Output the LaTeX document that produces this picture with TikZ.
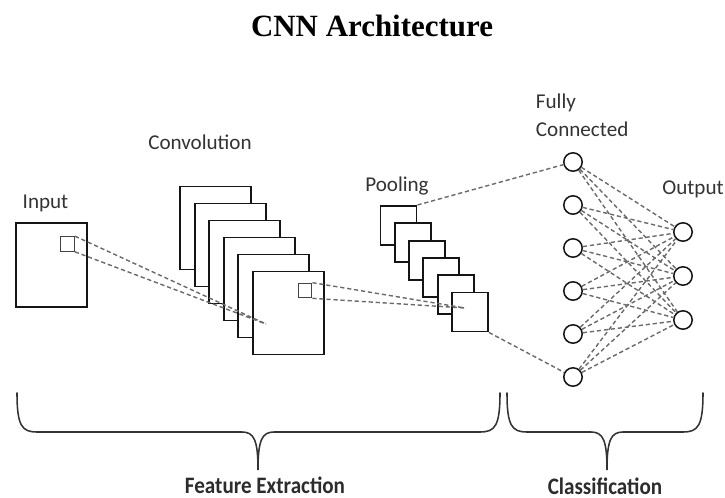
\documentclass[tikz,border=0pt]{standalone}
\usepackage{fontspec}
\setmainfont{Carlito}
\newfontfamily\titlefont{Liberation Serif}
\usetikzlibrary{calc}
\definecolor{ink}{HTML}{151515}
\definecolor{txt}{HTML}{333333}
\definecolor{dash}{HTML}{6A6A6A}
\tikzset{
  every picture/.style={x=0.025cm,y=-0.025cm},
  fmap/.style={draw=ink,fill=white,line width=1.4pt,inner sep=0pt},
  kern/.style={draw=ink!80,line width=0.9pt,inner sep=0pt,minimum width=0.34cm,minimum height=0.36cm},
  neuron/.style={draw=ink,fill=white,circle,line width=1.1pt,inner sep=0pt,minimum size=0.46cm},
  lbl/.style={text=txt,font=\fontsize{15}{20}\selectfont},
  group/.style={text=ink!90,font=\fontsize{15}{18}\selectfont\bfseries},
  link/.style={draw=dash,line width=1pt,dash pattern=on 3pt off 2pt},
  brace/.style={draw=txt,line width=1.1pt,line cap=round}
}

\begin{document}
\begin{tikzpicture}
  \useasboundingbox (0,0) rectangle (725,498);
  \node[font=\titlefont\fontsize{22}{26}\selectfont\bfseries] (title) at (372,26) {CNN Architecture};

  % input image
  \node[fmap,minimum width=1.775cm,minimum height=2.1cm] (in) at (51.5,265) {};
  \node[kern] (ink) at (67.5,244) {};
  \node[lbl] (inlbl) at (45.5,203) {Input};

  % convolution stack
  \foreach \i in {1,...,6}
    \node[fmap,minimum width=1.775cm,minimum height=2.075cm] (conv\i) at ({215.5+14.6*(\i-1)},{228+17*(\i-1)}) {};
  \node[kern] (convk) at (305,290.5) {};
  \node[lbl] (convlbl) at (200,142) {Convolution};

  % pooling stack
  \foreach \i in {1,...,6}
    \node[fmap,minimum width=0.9cm,minimum height=0.975cm] (pool\i) at ({398.5+14.3*(\i-1)},{225.5+17.3*(\i-1)}) {};
  \node[lbl] (poollbl) at (397,186) {Pooling};

  % dense layers
  \foreach \i in {1,...,6}
    \node[neuron] (fc\i) at (573,{162+43*(\i-1)}) {};
  \foreach \j in {1,2,3}
    \node[neuron] (out\j) at (683,{232+44*(\j-1)}) {};
  \node[lbl,align=left,anchor=west] (fclbl) at (531,115) {Fully\\Connected};
  \node[lbl] (outlbl) at (693,189) {Output};

  % receptive fields
  \coordinate (cp) at (266,324);
  \coordinate (pp) at (465,308);
  \draw[link] (ink.north east) -- (cp);
  \draw[link] (ink.south east) -- (cp);
  \draw[link] (convk.north east) -- (pp);
  \draw[link] (convk.south east) -- (pp);
  \draw[link] (pool1.north east) -- (fc1);
  \draw[link] (pool6.south east) -- (fc6);
  \foreach \i in {1,...,6}
    \foreach \j in {1,2,3}
      \draw[link] (fc\i) -- (out\j);

  % braces
  \draw[brace] (17,393) .. controls (17,426) and (22,432) .. (37,432) -- (242,432)
    .. controls (254,432) and (258,440) .. (258,470)
    .. controls (258,440) and (262,432) .. (274,432) -- (480,432)
    .. controls (495,432) and (500,426) .. (500,393);
  \draw[brace] (507,393) .. controls (507,426) and (512,432) .. (527,432) -- (591,432)
    .. controls (603,432) and (607,440) .. (607,470)
    .. controls (607,440) and (611,432) .. (623,432) -- (683,432)
    .. controls (698,432) and (703,426) .. (703,393);
  \node[group] (felbl) at (265,485) {\scalebox{1}[1.12]{Feature Extraction}};
  \node[group] (clslbl) at (605,486) {\scalebox{1}[1.12]{Classification}};
\end{tikzpicture}
\end{document}
